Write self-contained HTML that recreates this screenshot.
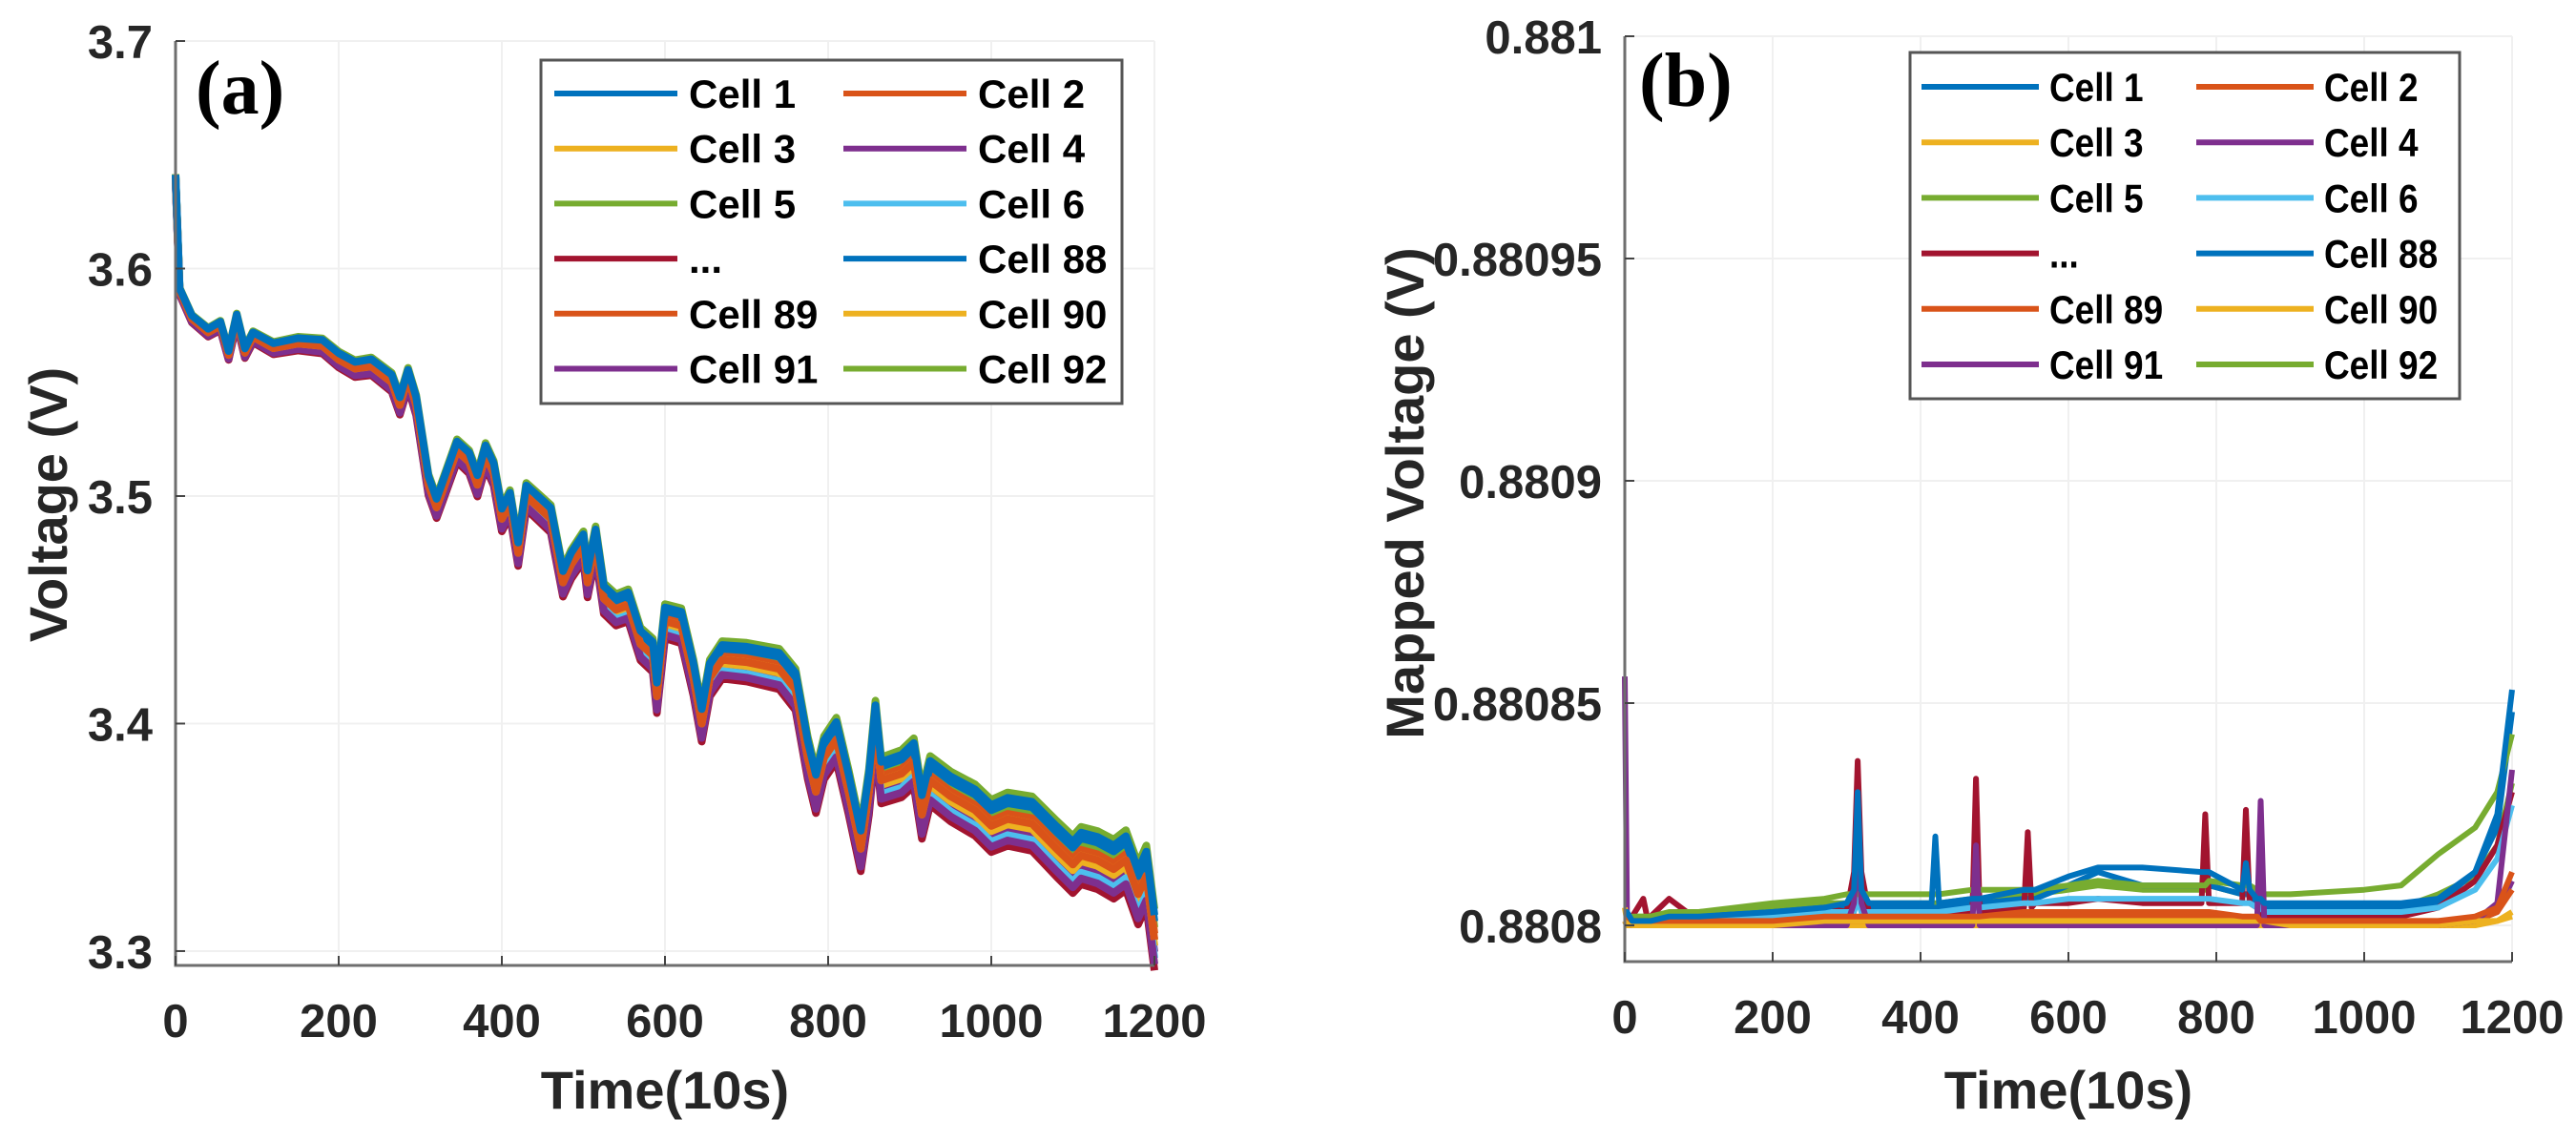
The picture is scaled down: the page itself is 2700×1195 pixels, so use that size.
<!DOCTYPE html>
<html><head><meta charset="utf-8"><style>
body{margin:0;background:#fff;overflow:hidden}
svg{display:block;font-family:"Liberation Sans",Arial,sans-serif}
.tk{font-size:49px;font-weight:bold;fill:#262626}
.ttl{font-size:56px;font-weight:bold;fill:#262626}
.lg{font-size:42px;font-weight:bold;fill:#000}
.pl{font-family:"Liberation Serif",serif;font-size:80px;font-weight:bold}
</style></head><body>
<svg id="chart" width="2700" height="1195" viewBox="0 0 2700 1195">
<g id="gA"></g>
<g id="gB"></g>
</svg>
<script>
// ---------- data ----------
const colors = ["#0072BD","#D95319","#EDB120","#7E2F8E","#77AC30","#4DBEEE","#A2142F","#0072BD","#D95319","#EDB120","#7E2F8E","#77AC30"];
const legendLabels = ["Cell 1","Cell 2","Cell 3","Cell 4","Cell 5","Cell 6","...","Cell 88","Cell 89","Cell 90","Cell 91","Cell 92"];
const xTicks = [0,200,400,600,800,1000,1200];
const yTicksA = [3.3,3.4,3.5,3.6,3.7];
const yTickLabelsA = ["3.3","3.4","3.5","3.6","3.7"];
const yTicksB = [0.8808,0.88085,0.8809,0.88095,0.881];
const yTickLabelsB = ["0.8808","0.88085","0.8809","0.88095","0.881"];
const timeA = [0,5,20,40,55,65,75,85,95,120,150,180,200,220,240,265,275,285,295,310,320,330,345,360,370,380,390,400,410,420,430,445,460,475,485,500,505,515,525,540,555,570,585,590,600,620,635,645,655,670,700,740,760,775,785,795,810,825,840,850,858,865,890,905,915,925,950,980,1000,1020,1050,1080,1100,1110,1130,1150,1165,1180,1190,1200];
const voltA = [3.64,3.59,3.578,3.572,3.575,3.562,3.578,3.563,3.570,3.565,3.567,3.566,3.560,3.556,3.557,3.550,3.540,3.552,3.540,3.505,3.495,3.505,3.520,3.515,3.505,3.518,3.510,3.490,3.497,3.475,3.500,3.495,3.490,3.462,3.470,3.478,3.462,3.480,3.455,3.450,3.452,3.435,3.430,3.412,3.445,3.443,3.420,3.400,3.420,3.428,3.427,3.424,3.415,3.385,3.370,3.385,3.393,3.370,3.345,3.370,3.400,3.375,3.378,3.383,3.360,3.375,3.368,3.362,3.355,3.358,3.356,3.345,3.338,3.342,3.340,3.336,3.340,3.325,3.333,3.305];
const cellOffsetA = [0.004,0.000,0.000,-0.004,0.005,-0.003,-0.005,0.003,0.001,-0.001,-0.002,0.002];
// panel b: deviations in microvolts above 0.8808
const timeB = [0,3,10,25,30,35,60,100,200,270,300,310,315,320,330,400,415,420,425,470,475,480,540,545,550,555,600,640,700,780,785,790,835,840,845,855,860,865,900,1000,1050,1100,1150,1180,1200];
const devCell1  = [3,3,1,1,1, 1,2,2,3,4, 5,8,30,8,5, 5,5,20,5,6, 6,6,8,8,8, 8,11,13,13,12, 12,12,8,14,8, 6,6,5,5,5, 5,6,12,25,53];
const devCell2  = [2,2,1,1,1, 1,1,1,1,2, 2,2,2,2,2, 2,2,2,2,2, 2,2,3,3,3, 3,3,3,3,3, 3,3,2,2,2, 2,1,1,1,1, 1,1,2,4,12];
const devCell3  = [4,1,0,0,0, 0,0,0,0,1, 1,1,1,1,1, 1,1,1,1,1, 1,1,1,1,1, 1,1,1,1,1, 1,1,1,1,1, 1,1,1,0,0, 0,0,1,1,3];
const devCell4  = [56,3,0,0,0, 0,0,0,0,0, 0,5,20,5,0, 0,0,0,0,0, 18,0,0,0,0, 0,0,0,0,0, 0,0,0,0,0, 0,28,0,0,0, 0,0,1,5,35];
const devCell5  = [2,2,2,2,2, 2,3,3,5,6, 7,7,7,7,7, 7,7,7,7,8, 8,8,8,8,8, 8,9,10,9,9, 9,10,9,9,9, 8,7,7,7,8, 9,16,22,30,43];
const devCell6  = [2,2,1,1,1, 1,1,2,2,3, 3,3,6,3,3, 3,3,3,3,4, 4,4,5,5,5, 5,6,6,6,6, 6,6,5,5,5, 4,4,3,3,3, 3,4,8,15,27];
const devCellX  = [2,2,2,6,2, 2,6,1,2,4, 3,12,37,12,3, 3,3,3,3,3, 33,3,4,21,4, 5,5,6,5,5, 25,5,5,26,5, 4,2,2,2,2, 2,4,10,18,30];
const devCell88 = [1,1,1,1,1, 1,1,2,3,4, 4,6,14,6,4, 4,4,4,4,5, 5,5,6,6,6, 6,9,12,9,9, 9,9,7,7,7, 5,4,4,4,4, 4,5,12,22,48];
const devCell89 = [1,1,0,0,0, 0,0,1,1,1, 1,1,1,1,1, 1,1,1,1,1, 1,1,2,2,2, 2,2,2,2,2, 2,2,1,1,1, 1,1,1,1,1, 1,1,1,3,8];
const devCell90 = [1,0,0,0,0, 0,0,0,0,0, 0,0,0,0,0, 0,0,0,0,0, 0,0,0,0,0, 0,0,0,0,0, 0,0,0,0,0, 0,0,0,0,0, 0,0,0,1,2];
const devCell91 = [1,0,0,0,0, 0,0,0,0,0, 0,0,0,0,0, 0,0,0,0,0, 0,0,0,0,0, 0,0,0,0,0, 0,0,0,0,0, 0,0,0,0,0, 0,0,1,3,10];
const devCell92 = [2,2,2,2,2, 2,2,3,4,5, 5,5,5,5,5, 5,5,5,5,6, 6,6,7,7,7, 7,8,9,8,8, 8,9,7,7,7, 6,5,4,3,3, 4,7,11,18,32];
const devB = [devCell1,devCell2,devCell3,devCell4,devCell5,devCell6,devCellX,devCell88,devCell89,devCell90,devCell91,devCell92];

// ---------- drawing ----------
const NS="http://www.w3.org/2000/svg";
function mk(parent,tag,attrs){const e=document.createElementNS(NS,tag);for(const k in attrs)e.setAttribute(k,attrs[k]);parent.appendChild(e);return e;}

function panel(g,P){
  const sx=v=>P.x0+(v-0)/(1200)*(P.x1-P.x0);
  const sy=v=>P.yb-(v-P.ymin)/(P.ymax-P.ymin)*(P.yb-P.yt);
  xTicks.forEach(t=>{const l=mk(g,'line',{x1:sx(t),x2:sx(t),y1:P.yt,y2:P.yb,stroke:'#f0f0f0','stroke-width':2});
    
    });
  P.yticks.forEach(t=>{const l=mk(g,'line',{x1:P.x0,x2:P.x1,y1:sy(t),y2:sy(t),stroke:'#f0f0f0','stroke-width':2});
    
    });
  for(let i=P.series.length-1;i>=0;i--){
    const s=P.series[i];
    const d=s.map((p,j)=>(j?'L':'M')+sx(p[0]).toFixed(1)+','+sy(p[1]).toFixed(1)).join('');
    const path=mk(g,'path',{d:d,fill:'none',stroke:colors[i],'stroke-width':P.lw,'stroke-linejoin':'round'});
    
    
  }
  const ax=mk(g,'path',{d:`M${P.x0},${P.yt}L${P.x0},${P.yb}L${P.x1},${P.yb}`,fill:'none',stroke:'#6e6e6e','stroke-width':3});
  
  
  xTicks.forEach(t=>{
    mk(g,'line',{x1:sx(t),x2:sx(t),y1:P.yb,y2:P.yb-10,stroke:'#444','stroke-width':2});
    const tx=mk(g,'text',{x:sx(t),y:P.yb+75,'text-anchor':'middle',class:'tk'});tx.textContent=t;
    
    
  });
  P.yticks.forEach((t,i)=>{
    mk(g,'line',{x1:P.x0,x2:P.x0+10,y1:sy(t),y2:sy(t),stroke:'#444','stroke-width':2});
    const tx=mk(g,'text',{x:P.x0-24,y:sy(t)+18,'text-anchor':'end',class:'tk'});tx.textContent=P.ylabels[i];
    
    
  });
  const xt=mk(g,'text',{x:(P.x0+P.x1)/2,y:1162,'text-anchor':'middle',class:'ttl'});xt.textContent='Time(10s)';
  
  
  const yt=mk(g,'text',{x:0,y:0,'text-anchor':'middle',class:'ttl',transform:`translate(${P.ytx},${P.ytc}) rotate(-90)`});yt.textContent=P.ytitle;
  
  
  const pl=mk(g,'text',{x:P.plx,y:P.ply,class:'pl'});pl.textContent=P.label;
  
  
  const L=P.leg;
  const lg=mk(g,'g',{});
  
  
  mk(lg,'rect',{x:L.x,y:L.y,width:L.w,height:L.h,fill:'#fff',stroke:'#555','stroke-width':3});
  legendLabels.forEach((lab,i)=>{
    const col=i%2,row=Math.floor(i/2);
    const bx=L.lx[col], by=L.r0+row*L.rs;
    const e=mk(lg,'g',{});
    
    
    mk(e,'line',{x1:bx,x2:bx+L.ll,y1:by,y2:by,stroke:colors[i],'stroke-width':6});
    const t=mk(e,'text',{x:0,y:0,class:'lg',transform:`translate(${bx+L.ll+L.gap},${by+15}) scale(${L.sq},1)`});t.textContent=lab;
  });
}

const seriesA=cellOffsetA.map(o=>timeA.map((t,j)=>[t,voltA[j]+o*(0.3+t/500)]));
const seriesB=devB.map(arr=>timeB.map((t,j)=>[t,0.8808+arr[j]*1e-6]));

panel(document.getElementById('gA'),{x0:184,x1:1210,yt:43,yb:1012,ymin:3.2937,ymax:3.7,yticks:yTicksA,ylabels:yTickLabelsA,
  series:seriesA,lw:8,ytitle:'Voltage (V)',ytx:70,ytc:529,label:'(a)',plx:205,ply:119,
  leg:{x:567,y:63,w:609,h:360,r0:98,rs:57.7,lx:[581,884],ll:129,gap:12,sq:1}});
panel(document.getElementById('gB'),{x0:1703,x1:2633,yt:38,yb:1008,ymin:0.88079185,ymax:0.881,yticks:yTicksB,ylabels:yTickLabelsB,
  series:seriesB,lw:6,ytitle:'Mapped Voltage (V)',ytx:1492,ytc:517,label:'(b)',plx:1718,ply:111,
  leg:{x:2002,y:55,w:576,h:363,r0:91,rs:58.2,lx:[2014,2302],ll:123,gap:11,sq:0.88}});
</script>
</body></html>
